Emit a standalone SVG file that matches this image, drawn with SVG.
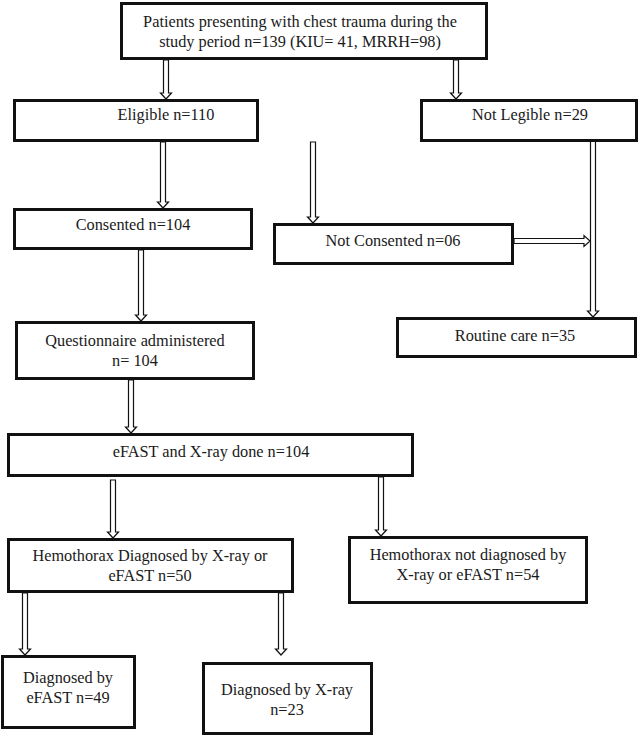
<svg xmlns="http://www.w3.org/2000/svg" width="640" height="736" viewBox="0 0 640 736">
<style>
.box{fill:#fff;stroke:#111;stroke-width:3}
.arr{fill:#fff;stroke:#111;stroke-width:1.2;stroke-linejoin:miter}
text{font-family:"Liberation Serif","Times New Roman",serif;font-size:16.3px;fill:#1a1a1a;text-anchor:middle}
</style>
<rect width="640" height="736" fill="#fff"/>
<g id="connectors">
<path class="arr" d="M163.5,60 V93 H160.5 L166,99 L171.5,93 H168.5 V60 Z"/>
<path class="arr" d="M453.5,60 V93 H450.5 L456,99 L461.5,93 H458.5 V60 Z"/>
<path class="arr" d="M160.5,142 V202 H157.5 L163,208 L168.5,202 H165.5 V142 Z"/>
<path class="arr" d="M310.5,142 V217 H307.5 L313,223 L318.5,217 H315.5 V142 Z"/>
<path class="arr" d="M590.5,141 V311 H587.5 L593,317 L598.5,311 H595.5 V141 Z"/>
<path class="arr" d="M514,238.5 H584 V235.5 L590,241 L584,246.5 V243.5 H514 Z"/>
<path class="arr" d="M138.5,250 V315 H135.5 L141,321 L146.5,315 H143.5 V250 Z"/>
<path class="arr" d="M128.5,380 V427 H125.5 L131,433 L136.5,427 H133.5 V380 Z"/>
<path class="arr" d="M110.5,480 V532 H107.5 L113,538 L118.5,532 H115.5 V480 Z"/>
<path class="arr" d="M378.5,477 V530 H375.5 L381,536 L386.5,530 H383.5 V477 Z"/>
<path class="arr" d="M22.5,593 V649 H19.5 L25,655 L30.5,649 H27.5 V593 Z"/>
<path class="arr" d="M278.5,593 V649 H275.5 L281,655 L286.5,649 H283.5 V593 Z"/>
</g>
<g id="n1"><rect class="box" x="121.5" y="3.5" width="365" height="55"/><text x="300" y="27">Patients presenting with chest trauma during the</text><text x="300" y="47">study period n=139 (KIU= 41, MRRH=98)</text></g>
<g id="n2"><rect class="box" x="14.5" y="100.5" width="243" height="40"/><text x="166" y="120">Eligible n=110</text></g>
<g id="n3"><rect class="box" x="421.5" y="100.5" width="215" height="40"/><text x="530" y="120">Not Legible n=29</text></g>
<g id="n4"><rect class="box" x="14.5" y="209.5" width="237" height="39"/><text x="133" y="230">Consented n=104</text></g>
<g id="n5"><rect class="box" x="274.5" y="224.5" width="238" height="39"/><text x="393" y="246">Not Consented n=06</text></g>
<g id="n6"><rect class="box" x="397.5" y="318.5" width="238" height="38"/><text x="515" y="341">Routine care n=35</text></g>
<g id="n7"><rect class="box" x="16.5" y="322.5" width="237" height="56"/><text x="135" y="346">Questionnaire administered</text><text x="135" y="366">n= 104</text></g>
<g id="n8"><rect class="box" x="8.5" y="434.5" width="404" height="41"/><text x="211" y="457">eFAST and X-ray done n=104</text></g>
<g id="n9"><rect class="box" x="8.5" y="539.5" width="284" height="52"/><text x="150" y="561">Hemothorax Diagnosed by X-ray or</text><text x="150" y="581">eFAST n=50</text></g>
<g id="n10"><rect class="box" x="349.5" y="537.5" width="237" height="65"/><text x="468" y="560">Hemothorax not diagnosed by</text><text x="468" y="580">X-ray or eFAST n=54</text></g>
<g id="n11"><rect class="box" x="2.5" y="656.5" width="132" height="71"/><text x="68" y="683">Diagnosed by</text><text x="68" y="703">eFAST n=49</text></g>
<g id="n12"><rect class="box" x="203.5" y="663.5" width="168" height="70"/><text x="287" y="695">Diagnosed by X-ray</text><text x="287" y="715">n=23</text></g>
</svg>
